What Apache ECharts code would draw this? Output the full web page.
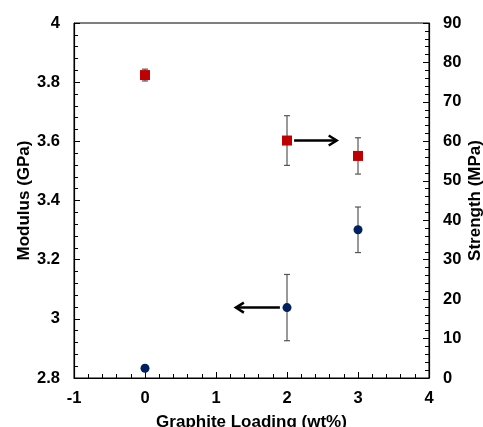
<!DOCTYPE html>
<html>
<head>
<meta charset="utf-8">
<script src="https://cdn.jsdelivr.net/npm/echarts@6/dist/echarts.min.js"></script>
<style>
  html, body { margin: 0; padding: 0; background: #fff; }
  #chart { width: 483px; height: 427px; }
</style>
</head>
<body>
<div id="chart"></div>
<script>
// Graphite loading (wt%)
const loading = [0, 2, 3];
// Modulus (GPa) with standard deviation
const modulus = [2.833, 3.038, 3.301];
const modulusErr = [0, 0.112, 0.077];
// Tensile strength (MPa) with standard deviation
const strength = [76.8, 60.2, 56.3];
const strengthErr = [1.5, 6.3, 4.6];
// Arrows pointing each series to its axis: [x1, y1, x2, y2]
const strengthArrow = [2.1, 60.2, 2.7, 60.2];
const modulusArrow = [1.9, 3.038, 1.28, 3.038];

const FONT = 'Liberation Sans, Arial, sans-serif';
const labelStyle = { color: '#000', fontWeight: 'bold', fontSize: 16.5, fontFamily: FONT };
const nameStyle = { color: '#000', fontWeight: 'bold', fontSize: 17, fontFamily: FONT };

function errorBar(params, api) {
  const x = api.value(0), y = api.value(1), e = api.value(2);
  if (!e) return null;
  const top = api.coord([x, y + e]);
  const bot = api.coord([x, y - e]);
  const cap = 3;
  const style = { stroke: '#555', lineWidth: 1.2 };
  return {
    type: 'group',
    children: [
      { type: 'line', shape: { x1: top[0], y1: top[1], x2: bot[0], y2: bot[1] }, style },
      { type: 'line', shape: { x1: top[0] - cap, y1: top[1], x2: top[0] + cap, y2: top[1] }, style },
      { type: 'line', shape: { x1: bot[0] - cap, y1: bot[1], x2: bot[0] + cap, y2: bot[1] }, style }
    ]
  };
}

function arrow(params, api) {
  const p1 = api.coord([api.value(0), api.value(1)]);
  const p2 = api.coord([api.value(2), api.value(3)]);
  const dir = p2[0] > p1[0] ? 1 : -1;
  const len = 8, half = 5;
  const style = { stroke: '#000', lineWidth: 2.5, fill: 'none' };
  return {
    type: 'group',
    children: [
      { type: 'line', shape: { x1: p1[0], y1: p1[1], x2: p2[0] - dir * 1, y2: p2[1] }, style },
      { type: 'polyline', shape: { points: [[p2[0] - dir * len, p2[1] - half], [p2[0], p2[1]], [p2[0] - dir * len, p2[1] + half]] }, style }
    ]
  };
}

const chart = echarts.init(document.getElementById('chart'));
chart.setOption({
  animation: false,
  grid: {
    left: 74, right: 54, top: 23, bottom: 49,
    containLabel: false, outerBoundsMode: 'none',
    show: true, borderColor: '#000', borderWidth: 1
  },
  xAxis: {
    type: 'value', min: -1, max: 4, interval: 1,
    name: 'Graphite Loading (wt%)', nameLocation: 'middle', nameGap: 36, nameMoveOverlap: false,
    nameTextStyle: nameStyle,
    axisLine: { onZero: false, lineStyle: { color: '#000', width: 1.2 } },
    axisTick: { inside: true, length: 6, lineStyle: { color: '#000' } },
    minorTick: { show: true, splitNumber: 5, length: 4, lineStyle: { color: '#000' } },
    splitLine: { show: false },
    axisLabel: Object.assign({ margin: 12 }, labelStyle)
  },
  yAxis: [
    {
      type: 'value', min: 2.8, max: 4, interval: 0.2,
      name: 'Modulus (GPa)', nameLocation: 'middle', nameGap: 41, nameMoveOverlap: false,
      nameTextStyle: nameStyle,
      axisLine: { show: true, onZero: false, lineStyle: { color: '#000', width: 1.2 } },
      axisTick: { show: true, inside: true, length: 6, lineStyle: { color: '#000' } },
      minorTick: { show: true, splitNumber: 5, length: 4, lineStyle: { color: '#000' } },
      splitLine: { show: false },
      axisLabel: Object.assign({ margin: 14, formatter: v => String(+v.toFixed(2)) }, labelStyle)
    },
    {
      type: 'value', min: 0, max: 90, interval: 10, position: 'right',
      name: 'Strength (MPa)', nameLocation: 'middle', nameGap: 38, nameRotate: 90, nameMoveOverlap: false,
      nameTextStyle: nameStyle,
      axisLine: { show: true, onZero: false, lineStyle: { color: '#000', width: 1.2 } },
      axisTick: { show: true, inside: true, length: 6, lineStyle: { color: '#000' } },
      minorTick: { show: true, splitNumber: 5, length: 4, lineStyle: { color: '#000' } },
      splitLine: { show: false },
      axisLabel: Object.assign({ margin: 14 }, labelStyle)
    }
  ],
  series: [
    {
      type: 'custom', yAxisIndex: 0, renderItem: errorBar, z: 2,
      data: loading.map((x, i) => [x, modulus[i], modulusErr[i]])
    },
    {
      type: 'custom', yAxisIndex: 1, renderItem: errorBar, z: 2,
      data: loading.map((x, i) => [x, strength[i], strengthErr[i]])
    },
    {
      type: 'scatter', yAxisIndex: 0, symbol: 'circle', symbolSize: 9, z: 3,
      itemStyle: { color: '#002060', opacity: 1 },
      data: loading.map((x, i) => [x, modulus[i]])
    },
    {
      type: 'scatter', yAxisIndex: 1, symbol: 'rect', symbolSize: 10, z: 3,
      itemStyle: { color: '#C00000', opacity: 1 },
      data: loading.map((x, i) => [x, strength[i]])
    },
    { type: 'custom', yAxisIndex: 1, renderItem: arrow, z: 4, data: [strengthArrow] },
    { type: 'custom', yAxisIndex: 0, renderItem: arrow, z: 4, data: [modulusArrow] }
  ]
});
</script>
</body>
</html>
